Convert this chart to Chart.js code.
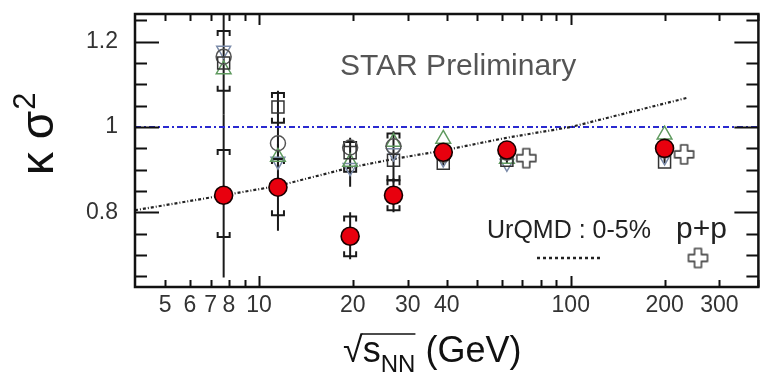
<!DOCTYPE html>
<html>
<head>
<meta charset="utf-8">
<script src="https://cdn.jsdelivr.net/npm/chart.js@4.4.1/dist/chart.umd.min.js"></script>
<style>
  body { margin: 0; background: #fff; }
  #wrap { width: 769px; height: 376px; }
</style>
</head>
<body>
<div id="wrap"><canvas id="kurtChart" width="769" height="376"></canvas></div>
<script>
// beam energies (GeV)
const energies = [7.7, 11.5, 19.6, 27, 39, 62.4, 200];

// 0-5% central (filled red)
const kurt0to5 = [0.840, 0.859, 0.744, 0.840, 0.941, 0.946, 0.950];
const stat0to5Lo = [0.647, 0.757, 0.690, 0.800, 0.930, 0.932, 0.937];
const stat0to5Hi = [1.030, 0.960, 0.800, 0.880, 0.952, 0.960, 0.963];
const sys0to5Lo = [0.742, 0.793, 0.697, 0.805, null, null, null];
const sys0to5Hi = [0.946, 0.925, 0.790, 0.875, null, null, null];

// other centralities (open markers)
const kurtSquare = [1.150, 1.047, 0.940, 0.922, 0.915, 0.922, 0.918];
const kurtCircle = [1.165, 0.962, 0.952, 0.955, 0.935, 0.940, 0.945];
const kurtTriUp = [1.135, 0.930, 0.918, 0.965, 0.972, 0.925, 0.982];
const kurtTriDown = [1.180, 0.920, 0.905, 0.940, 0.925, 0.915, 0.930];
const statOpenLo = [1.030, 0.900, 0.860, 0.870, 0.910, 0.915, 0.915];
const statOpenHi = [1.300, 1.085, 0.975, 0.990, 0.935, 0.945, 0.940];
const sysOpenLo = [1.085, 1.010, 0.895, 0.875, null, null, null];
const sysOpenHi = [1.225, 1.080, 0.965, 0.985, null, null, null];

// p+p
const ppEnergies = [72, 231];
const ppKurt = [0.927, 0.936];

// UrQMD 0-5%
const urqmdEnergies = [4, 7.7, 11.5, 19.6, 27, 39, 62.4, 100, 235];
const urqmdKurt = [0.805, 0.840, 0.862, 0.905, 0.925, 0.945, 0.975, 1.000, 1.068];

// unity reference
const unityEnergies = [4, 400];
const unityKurt = [1, 1];

// axes
const xTickValues = [5, 6, 7, 8, 9, 10, 20, 30, 40, 50, 60, 70, 80, 90, 100, 200, 300, 400];
const xLabelValues = [5, 6, 7, 8, 10, 20, 30, 40, 100, 200, 300];
const yTickValues = [0.65, 0.7, 0.75, 0.8, 0.85, 0.9, 0.95, 1.0, 1.05, 1.1, 1.15, 1.2, 1.25];
const yLabelValues = [0.8, 1.0, 1.2];

const FONT = '"Liberation Sans", Arial, Helvetica, sans-serif';

function toPoints(xs, ys) {
    return xs.map((x, i) => ({ x: x, y: ys[i] }));
}

function makeCrossImage(size, stroke) {
    const c = document.createElement('canvas');
    c.width = c.height = size + 4;
    const g = c.getContext('2d');
    const a = size / 2, w = a * 0.36;
    g.translate(c.width / 2, c.height / 2);
    g.beginPath();
    g.moveTo(-w, -a); g.lineTo(w, -a); g.lineTo(w, -w); g.lineTo(a, -w);
    g.lineTo(a, w); g.lineTo(w, w); g.lineTo(w, a); g.lineTo(-w, a);
    g.lineTo(-w, w); g.lineTo(-a, w); g.lineTo(-a, -w); g.lineTo(-w, -w);
    g.closePath();
    g.fillStyle = '#fff';
    g.fill();
    g.lineWidth = 1.6;
    g.lineJoin = 'round';
    g.strokeStyle = stroke;
    g.stroke();
    return c;
}

const crossImg = makeCrossImage(19, '#444');

// error bars + systematic brackets, drawn under markers
const errorBars = {
    id: 'errorBars',
    beforeDatasetsDraw(chart) {
        const ctx = chart.ctx;
        const xs = chart.scales.x, ys = chart.scales.y;
        const area = chart.chartArea;
        ctx.save();
        ctx.beginPath();
        ctx.rect(area.left, area.top, area.right - area.left, area.bottom - area.top);
        ctx.clip();
        ctx.strokeStyle = '#1a1a1a';
        ctx.lineWidth = 2;
        const sets = [
            [statOpenLo, statOpenHi, sysOpenLo, sysOpenHi],
            [stat0to5Lo, stat0to5Hi, sys0to5Lo, sys0to5Hi]
        ];
        sets.forEach(([lo, hi, sLo, sHi]) => {
            energies.forEach((e, i) => {
                const px = xs.getPixelForValue(e);
                ctx.beginPath();
                ctx.moveTo(px, ys.getPixelForValue(lo[i]));
                ctx.lineTo(px, ys.getPixelForValue(hi[i]));
                ctx.stroke();
                if (sLo[i] !== null) {
                    const py = ys.getPixelForValue(sLo[i]);
                    ctx.beginPath();
                    ctx.moveTo(px - 6, py - 5); ctx.lineTo(px - 6, py);
                    ctx.lineTo(px + 6, py); ctx.lineTo(px + 6, py - 5);
                    ctx.stroke();
                }
                if (sHi[i] !== null) {
                    const py = ys.getPixelForValue(sHi[i]);
                    ctx.beginPath();
                    ctx.moveTo(px - 6, py + 5); ctx.lineTo(px - 6, py);
                    ctx.lineTo(px + 6, py); ctx.lineTo(px + 6, py + 5);
                    ctx.stroke();
                }
            });
        });
        ctx.restore();
    }
};

// frame, inward ticks, titles and annotations
const frameAndText = {
    id: 'frameAndText',
    afterDatasetsDraw(chart) {
        const ctx = chart.ctx;
        const xs = chart.scales.x, ys = chart.scales.y;
        const { left, right, top, bottom } = chart.chartArea;
        ctx.save();
        ctx.strokeStyle = '#111';

        // ticks
        ctx.lineWidth = 2;
        yTickValues.forEach(v => {
            const py = Math.round(ys.getPixelForValue(v)) + 0.5;
            const major = yLabelValues.some(l => Math.abs(l - v) < 1e-6);
            const len = major ? 24 : 12;
            ctx.beginPath();
            ctx.moveTo(left, py); ctx.lineTo(left + len, py);
            ctx.moveTo(right, py); ctx.lineTo(right - len, py);
            ctx.stroke();
        });
        xTickValues.forEach(v => {
            const px = Math.round(xs.getPixelForValue(v)) + 0.5;
            const len = (v === 10 || v === 100) ? 11 : 7;
            ctx.beginPath();
            ctx.moveTo(px, bottom); ctx.lineTo(px, bottom - len);
            ctx.moveTo(px, top); ctx.lineTo(px, top + len);
            ctx.stroke();
        });

        // frame
        ctx.lineWidth = 2.5;
        ctx.strokeRect(left, top, right - left, bottom - top);

        // STAR Preliminary
        ctx.fillStyle = '#555';
        ctx.font = '30px ' + FONT;
        ctx.textBaseline = 'alphabetic';
        ctx.textAlign = 'left';
        ctx.fillText('STAR Preliminary', left + 205, top + 61);

        // legend
        ctx.fillStyle = '#222';
        ctx.font = '25px ' + FONT;
        ctx.fillText('UrQMD : 0-5%', left + 352, top + 224);
        ctx.font = '30px ' + FONT;
        ctx.fillText('p+p', left + 541, top + 224);
        ctx.strokeStyle = '#222';
        ctx.lineWidth = 2.5;
        ctx.setLineDash([3, 3]);
        ctx.beginPath();
        ctx.moveTo(left + 402, top + 244);
        ctx.lineTo(left + 466, top + 244);
        ctx.stroke();
        ctx.setLineDash([]);
        ctx.drawImage(crossImg, left + 563 - crossImg.width / 2, top + 244 - crossImg.height / 2);

        // y title: kappa sigma^2
        ctx.fillStyle = '#111';
        ctx.save();
        ctx.translate(53, 175);
        ctx.rotate(-Math.PI / 2);
        ctx.font = '46px ' + FONT;
        ctx.fillText('\u03ba \u03c3', 0, 0);
        const w = ctx.measureText('\u03ba \u03c3').width;
        ctx.font = '31px ' + FONT;
        ctx.fillText('2', w + 1, -18);
        ctx.restore();

        // x title: sqrt(s_NN) (GeV)
        ctx.font = '36px ' + FONT;
        let x = 343;
        const base = 362;
        ctx.fillText('\u221a', x, base);
        x += ctx.measureText('\u221a').width;
        const sStart = x;
        ctx.fillText('s', x, base);
        x += ctx.measureText('s').width;
        ctx.font = '24px ' + FONT;
        ctx.fillText('NN', x, base + 10);
        x += ctx.measureText('NN').width;
        ctx.lineWidth = 1.5;
        ctx.strokeStyle = '#111';
        ctx.beginPath();
        ctx.moveTo(sStart - 1, base - 28);
        ctx.lineTo(x, base - 28);
        ctx.stroke();
        ctx.font = '36px ' + FONT;
        ctx.fillText(' (GeV)', x, base);

        ctx.restore();
    }
};

const openStyle = {
    showLine: false,
    pointBackgroundColor: 'rgba(0,0,0,0)',
    pointBorderWidth: 1.5,
    order: 3
};

new Chart(document.getElementById('kurtChart'), {
    type: 'scatter',
    data: {
        datasets: [
            {
                label: '0-5%',
                data: toPoints(energies, kurt0to5),
                pointStyle: 'circle',
                pointRadius: 9,
                pointBackgroundColor: '#e8000e',
                pointBorderColor: '#1a0000',
                pointBorderWidth: 1.6,
                showLine: false,
                order: 0
            },
            {
                label: 'p+p',
                data: toPoints(ppEnergies, ppKurt),
                pointStyle: crossImg,
                showLine: false,
                order: 1
            },
            Object.assign({
                label: 'open square',
                data: toPoints(energies, kurtSquare),
                pointStyle: 'rect',
                pointRadius: 8.5,
                pointBorderColor: '#333'
            }, openStyle),
            Object.assign({
                label: 'open circle',
                data: toPoints(energies, kurtCircle),
                pointStyle: 'circle',
                pointRadius: 7.5,
                pointBorderColor: '#555'
            }, openStyle),
            Object.assign({
                label: 'open triangle',
                data: toPoints(energies, kurtTriUp),
                pointStyle: 'triangle',
                pointRadius: 8.5,
                pointBorderColor: '#5f9a5f'
            }, openStyle),
            Object.assign({
                label: 'open down triangle',
                data: toPoints(energies, kurtTriDown),
                pointStyle: 'triangle',
                pointRotation: 180,
                pointRadius: 8,
                pointBorderColor: '#7a8aa8'
            }, openStyle),
            {
                label: 'UrQMD 0-5%',
                data: toPoints(urqmdEnergies, urqmdKurt),
                showLine: true,
                borderColor: '#222',
                borderWidth: 2.2,
                borderDash: [3, 2, 1, 2],
                pointRadius: 0,
                fill: false,
                order: 5
            },
            {
                label: 'unity',
                data: toPoints(unityEnergies, unityKurt),
                showLine: true,
                borderColor: '#2a2ad0',
                borderWidth: 2,
                borderDash: [6, 3, 2, 3],
                pointRadius: 0,
                fill: false,
                order: 6
            }
        ]
    },
    options: {
        responsive: false,
        animation: false,
        devicePixelRatio: 1,
        layout: { padding: { top: 14, right: 1, left: 0, bottom: 0 } },
        plugins: {
            legend: { display: false },
            tooltip: { enabled: false },
            title: { display: false }
        },
        scales: {
            x: {
                type: 'logarithmic',
                min: 4,
                max: 400,
                afterBuildTicks: scale => {
                    scale.ticks = xTickValues.map(v => ({ value: v }));
                },
                afterFit: scale => {
                    scale.height = 89;
                    scale.paddingLeft = 0;
                    scale.paddingRight = 0;
                },
                grid: { display: false, drawTicks: false },
                border: { display: false },
                ticks: {
                    autoSkip: false,
                    maxRotation: 0,
                    padding: 5,
                    color: '#333',
                    font: { family: FONT, size: 23 },
                    callback: v => xLabelValues.includes(v) ? String(v) : ''
                }
            },
            y: {
                type: 'linear',
                min: 0.625,
                max: 1.265,
                afterBuildTicks: scale => {
                    scale.ticks = yTickValues.map(v => ({ value: v }));
                },
                afterFit: scale => {
                    scale.width = 135;
                    scale.paddingTop = 0;
                    scale.paddingBottom = 0;
                },
                grid: { display: false, drawTicks: false },
                border: { display: false },
                ticks: {
                    autoSkip: false,
                    padding: 17,
                    color: '#333',
                    font: { family: FONT, size: 23 },
                    callback: v => {
                        const hit = yLabelValues.find(l => Math.abs(l - v) < 1e-6);
                        return hit === undefined ? '' : String(hit);
                    }
                }
            }
        }
    },
    plugins: [errorBars, frameAndText]
});
</script>
</body>
</html>
